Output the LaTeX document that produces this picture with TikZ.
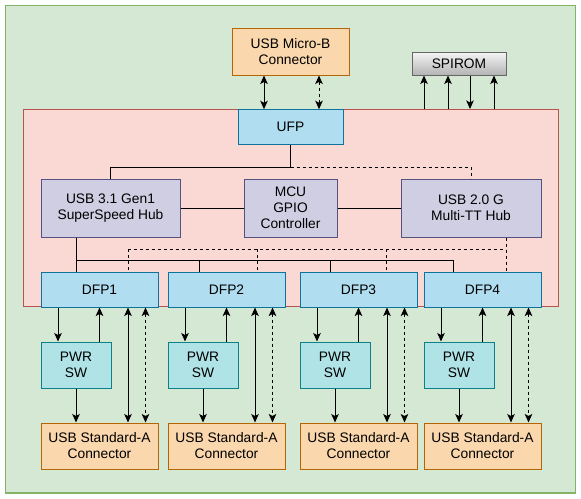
\documentclass[tikz,border=0pt]{standalone}
\usepackage{fontspec}
\setmainfont{Liberation Sans}
\usetikzlibrary{arrows.meta,calc}
\definecolor{gfill}{HTML}{D5E8D4}\definecolor{gline}{HTML}{82B366}
\definecolor{pfill}{HTML}{FAD9D5}\definecolor{pline}{HTML}{B85450}
\definecolor{ofill}{HTML}{FAD7AC}\definecolor{oline}{HTML}{B46504}
\definecolor{bfill}{HTML}{B1DDF0}\definecolor{bline}{HTML}{10739E}
\definecolor{vfill}{HTML}{D0CEE2}\definecolor{vline}{HTML}{56517E}
\definecolor{tfill}{HTML}{B0E3E6}\definecolor{tline}{HTML}{0E8088}
\definecolor{sgtop}{HTML}{F5F5F5}\definecolor{sgbot}{HTML}{B3B3B3}\definecolor{sgline}{HTML}{666666}
\begin{document}
\begin{tikzpicture}[x=1pt,y=-1pt,font=\fontsize{13.8}{16}\selectfont,
  box/.style={draw,line width=1pt,align=center,inner sep=0pt},
  obox/.style={box,fill=ofill,draw=oline},
  bbox/.style={box,fill=bfill,draw=bline},
  vbox/.style={box,fill=vfill,draw=vline},
  tbox/.style={box,fill=tfill,draw=tline},
  sbox/.style={box,top color=sgtop,bottom color=sgbot,draw=sgline},
  wire/.style={line width=1pt},
  dwire/.style={line width=1pt,dash pattern=on 3pt off 3pt},
  arr/.style={wire,-{Stealth[length=8.5pt,width=7.5pt,inset=2pt]}},
  darr/.style={wire,{Stealth[length=8.5pt,width=7.5pt,inset=2pt]}-{Stealth[length=8.5pt,width=7.5pt,inset=2pt]}},
  ddarr/.style={dwire,{Stealth[length=8.5pt,width=7.5pt,inset=2pt]}-{Stealth[length=8.5pt,width=7.5pt,inset=2pt]}}]
\useasboundingbox (0,0) rectangle (581,498);
\node[draw=gline,fill=gfill,line width=1.3pt,minimum width=570pt,minimum height=487.5pt,inner sep=0pt] (bg) at (290.5,249.25) {};
\node[draw=pline,fill=pfill,line width=1pt,minimum width=535pt,minimum height=196.5pt,inner sep=0pt] (chip) at (290.5,207.75) {};
\node[obox,minimum width=117pt,minimum height=47pt] (microb) at (290.5,51.5) {USB Micro-B\\Connector};
\node[sbox,minimum width=94pt,minimum height=23pt] (spirom) at (459,63.5) {SPIROM};
\node[bbox,minimum width=105pt,minimum height=35pt] (ufp) at (290.5,127.25) {UFP};
\node[vbox,minimum width=139pt,minimum height=58pt] (hub3) at (110.5,208) {USB 3.1 Gen1\\SuperSpeed Hub};
\node[vbox,minimum width=93pt,minimum height=58pt] (mcu) at (290.5,208) {MCU\\GPIO\\Controller};
\node[vbox,minimum width=140pt,minimum height=58pt] (hub2) at (471,208) {USB 2.0 G\\Multi-TT Hub};
% top connections
\coordinate (mb1) at (264,0 |- microb.south);
\coordinate (mb2) at (319,0 |- microb.south);
\draw[darr] (mb1) -- (mb1 |- ufp.north);
\draw[ddarr] (mb2) -- (mb2 |- ufp.north);
\coordinate (s1) at (424,0 |- chip.north);
\coordinate (s2) at (448,0 |- chip.north);
\coordinate (s3) at (470,0 |- chip.north);
\coordinate (s4) at (494,0 |- chip.north);
\draw[arr] (s1) -- (s1 |- spirom.south);
\draw[arr] (s2) -- (s2 |- spirom.south);
\draw[arr] (s3 |- spirom.south) -- (s3);
\draw[arr] (s4) -- (s4 |- spirom.south);
% internal
\coordinate (uj) at (290.5,167);
\draw[wire] (ufp.south) -- (uj) -| (hub3.north);
\draw[dwire] (uj) -| (hub2.north);
\draw[wire] (hub3.east) -- (mcu.west);
\draw[wire] (mcu.east) -- (hub2.east -| hub2.west);
\foreach \i/\L in {1/41,2/168,3/300,4/424}{
  \node[bbox,minimum width=117pt,minimum height=35pt] (dfp\i) at ({\L+58.5},289.5) {DFP\i};
  \node[tbox,minimum width=70pt,minimum height=46pt] (pwr\i) at ({\L+35},365) {PWR\\SW};
  \node[obox,minimum width=117pt,minimum height=46pt] (usb\i) at ({\L+58.5},446) {USB Standard-A\\Connector};
  \coordinate (da\i) at ([xshift=17.5pt]dfp\i.south west);
  \coordinate (db\i) at ([xshift=87.5pt]dfp\i.south west);
  \coordinate (dc\i) at ([xshift=105pt]dfp\i.south west);
  \draw[arr] (da\i) -- (da\i |- pwr\i.north);
  \draw[arr] (pwr\i.north -| dfp\i.south) -- (dfp\i.south);
  \draw[arr] (pwr\i.south) -- (pwr\i.south |- usb\i.north);
  \draw[darr] (db\i) -- (db\i |- usb\i.north);
  \draw[ddarr] (dc\i) -- (dc\i |- usb\i.north);
}
% solid bus from 3.1 hub
\coordinate (h3b) at (76,0 |- hub3.south);
\draw[wire] (h3b) -- (h3b |- dfp1.north);
\draw[wire] (76,260) -- (453,260);
\foreach \x/\i in {199/2,330/3,453/4}{
  \draw[wire] (\x,260) -- (\x,0 |- dfp\i.north);
}
% dashed bus from 2.0 hub
\coordinate (h2b) at (506,0 |- hub2.south);
\draw[dwire] (h2b) -- (h2b |- dfp4.north);
\draw[dwire] (128,249) -- (506,249);
\foreach \x/\i in {128/1,257/2,386/3}{
  \draw[dwire] (\x,249) -- (\x,0 |- dfp\i.north);
}
\end{tikzpicture}
\end{document}
